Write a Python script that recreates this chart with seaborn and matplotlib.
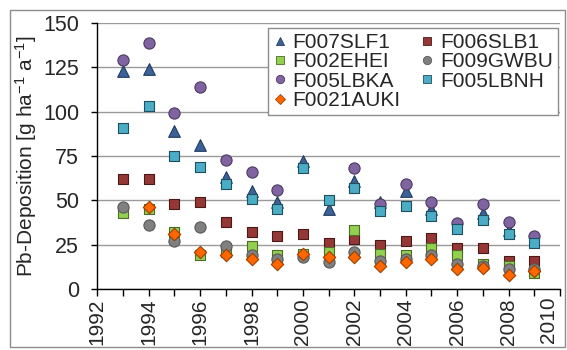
import matplotlib
matplotlib.use("Agg")
import matplotlib.pyplot as plt
import numpy as np
import pandas as pd
import seaborn as sns
from matplotlib.lines import Line2D
from matplotlib.patches import Rectangle
from matplotlib.ticker import FuncFormatter, MultipleLocator

# ── Data ──────────────────────────────────────────────────────────────────────

years = list(range(1993, 2010))

f007slf1 = [123, 124, 89, 81, 63, 55, 49, 72, 45, 61, 49, 55, 45, np.nan, 43, 33, np.nan]
f006slb1 = [62, 62, 48, 49, 38, 32, 30, 31, 26, 28, 25, 27, 29, 23, 23, 16, 16]
f002ehei = [43, 45, 32, 19, 21, 24, 19, 20, 21, 33, 20, 19, 23, 19, 14, 13, 9]
f009gwbu = [46, 36, 27, 35, 24, 19, 17, 18, 15, 21, 16, 17, 19, 14, 13, 11, 11]
f005lbka = [129, 139, 99, 114, 73, 66, 56, np.nan, np.nan, 68, 48, 59, 49, 37, 48, 38, 30]
f005lbnh = [91, 103, 75, 69, 59, 51, 45, 68, 50, 57, 44, 47, 41, 34, 39, 31, 26]
f0021auki = [np.nan, 46, 31, 21, 19, 17, 14, 20, 18, 18, 13, 15, 17, 11, 12, 8, 10]

series_names = ["F007SLF1", "F006SLB1", "F002EHEI", "F009GWBU",
                "F005LBKA", "F005LBNH", "F0021AUKI"]
series_values = [f007slf1, f006slb1, f002ehei, f009gwbu, f005lbka, f005lbnh, f0021auki]

X_MIN, X_MAX = 1992, 2010

STYLE = {
    "F007SLF1": {"marker": "^", "color": "#3C6399", "edge": "#1F3A5F", "s": 70},
    "F006SLB1": {"marker": "s", "color": "#953735", "edge": "#4A1A19", "s": 55},
    "F002EHEI": {"marker": "s", "color": "#92D050", "edge": "#4E6B28", "s": 55},
    "F009GWBU": {"marker": "o", "color": "#808080", "edge": "#5A5A5A", "s": 65},
    "F005LBKA": {"marker": "o", "color": "#8064A2", "edge": "#4B3A61", "s": 65},
    "F005LBNH": {"marker": "s", "color": "#4BACC6", "edge": "#1F4F5C", "s": 55},
    "F0021AUKI": {"marker": "D", "color": "#FF6600", "edge": "#9B4000", "s": 40},
}

# ── Figure ────────────────────────────────────────────────────────────────────

sns.set_theme(style="white")
plt.rcParams["font.family"] = ["Liberation Sans", "DejaVu Sans"]
plt.rcParams["mathtext.default"] = "regular"

fig = plt.figure(figsize=(5.67, 3.5), dpi=100)
ax = fig.add_axes([0.1716, 0.1743, 0.816, 0.760])

df = pd.DataFrame({"year": years})
for name, vals in zip(series_names, series_values):
    df[name] = vals

for name in series_names:
    st = STYLE[name]
    sns.scatterplot(data=df, x="year", y=name, ax=ax, marker=st["marker"],
                    color=st["color"], edgecolor=st["edge"], linewidth=0.8,
                    s=st["s"], zorder=3)

ax.set_xlim(X_MIN, X_MAX)
ax.set_ylim(0, 150)
ax.xaxis.set_major_locator(MultipleLocator(2))
ax.xaxis.set_minor_locator(MultipleLocator(1))
ax.yaxis.set_major_locator(MultipleLocator(25))
# the last year label is drawn separately, nudged inside the chart border
ax.xaxis.set_major_formatter(FuncFormatter(lambda v, _: "" if v >= X_MAX else f"{v:.0f}"))
ax.grid(axis="y", color="#9A9A9A", linewidth=1.0, zorder=0)
ax.set_axisbelow(True)

for side in ["top", "right"]:
    ax.spines[side].set_visible(False)
for side in ["left", "bottom"]:
    ax.spines[side].set_color("black")
    ax.spines[side].set_linewidth(1.0)

ax.tick_params(axis="x", which="both", direction="out", length=5, width=1,
               color="black", bottom=True, labelsize=15, rotation=90, pad=2)
ax.tick_params(axis="y", direction="out", length=4, width=1, color="black",
               left=True, labelsize=15.5, pad=9)

ax.annotate(str(X_MAX), xy=(X_MAX, 0), xycoords=("data", "axes fraction"),
            xytext=(-8, -5), textcoords="offset points", rotation=90,
            ha="center", va="top", fontsize=15)

ax.set_xlabel("")
ax.set_ylabel("Pb-Deposition [g ha$^{-1}$ a$^{-1}$]", fontsize=15, labelpad=3)

# Legend: two columns, filled row by row like the original
handles = {
    name: Line2D([], [], linestyle="none", marker=STYLE[name]["marker"],
                 markerfacecolor=STYLE[name]["color"],
                 markeredgecolor=STYLE[name]["edge"], markeredgewidth=0.6,
                 markersize=6 if STYLE[name]["marker"] != "D" else 5)
    for name in series_names
}
order = ["F007SLF1", "F002EHEI", "F005LBKA", "F0021AUKI",
         "F006SLB1", "F009GWBU", "F005LBNH"]
leg = ax.legend([handles[n] for n in order], order, ncol=2, loc="upper right",
                bbox_to_anchor=(1.0, 0.99), fontsize=15, frameon=True,
                fancybox=False, edgecolor="#8C8C8C", framealpha=1,
                handlelength=0.6, handletextpad=0.3, columnspacing=1.0,
                labelspacing=0.02, borderpad=0.25, borderaxespad=0.1)
leg.get_frame().set_linewidth(1.0)

# Outer chart border
fig.patches.append(Rectangle((10 / 567, 3 / 350), 555 / 567, 337 / 350,
                             transform=fig.transFigure, fill=False,
                             edgecolor="#8C8C8C", linewidth=1.0))

fig.savefig("out.png", dpi=100)
